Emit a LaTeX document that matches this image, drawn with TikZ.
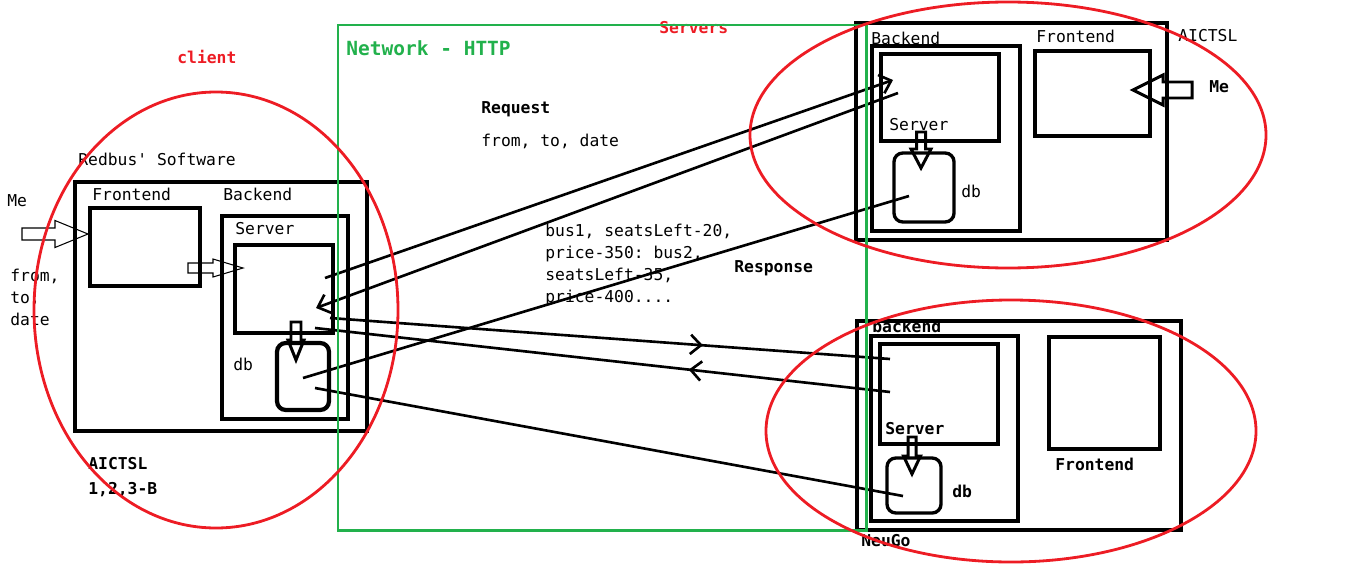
\documentclass[tikz,border=0pt]{standalone}
\usepackage{fontspec}
\setmonofont{DejaVu Sans Mono}
\usepackage{tikz}
\usetikzlibrary{fit}
\usetikzlibrary{arrows.meta}
\usetikzlibrary{decorations.markings}
\definecolor{paintred}{RGB}{237,28,36}
\definecolor{paintgreen}{RGB}{34,177,76}
\newcommand{\lblfont}{\fontsize{9.3}{12.5}\selectfont\ttfamily}
\tikzset{
  pics/hollow/.style n args={4}{code={
    \draw (0,#3) -- ({#1-#2},#3) -- ({#1-#2},#4) -- (#1,0) -- ({#1-#2},-#4) -- ({#1-#2},-#3) -- (0,-#3) -- cycle;
  }}
}

\begin{document}
\begin{tikzpicture}[x=0.02cm, y=-0.02cm,
    box/.style={draw, inner sep=0pt, line width=#1}, box/.default=1.9pt,
    dbbox/.style={box=#1, rounded corners=5pt}, dbbox/.default=1.9pt,
    link/.style={line width=1.5pt, -{Straight Barb[length=6pt,width=11pt]}},
    wire/.style={line width=1.5pt},
    midarrow/.style={line width=1.5pt, postaction={decorate},
      decoration={markings, mark=at position #1 with {\arrow{Straight Barb[length=6pt,width=11pt]}}}},
    lbl/.style={font=\lblfont, anchor=west, inner sep=0pt},
    blbl/.style={font=\lblfont\bfseries, anchor=west, inner sep=0pt},
    oval/.style={draw=paintred, line width=1.6pt}]
  \useasboundingbox (0,0) rectangle (1354,581);

  % client side
  \node[box=2.4pt, fit={(75,182) (367,431)}] (lclient) {};
  \node[box=2.4pt, fit={(90,208) (200,286)}] (lfront) {};
  \node[box=2.4pt, fit={(222,216) (348,419)}] (lback) {};
  \node[box=2.4pt, fit={(235,245) (333,333)}] (lserver) {};
  \node[dbbox=2.4pt, fit={(277,343) (329,410)}] (ldb) {};
  \pic[line width=0.6pt] at (22,234) {hollow={66}{33}{6}{13.5}};
  \pic[line width=0.6pt] at (188,268) {hollow={55}{30}{5}{9}};
  \pic[line width=1.7pt, rotate=-90] at (296,322) {hollow={38}{20}{5}{8}};
  \node[blbl, text=paintred] (clientlbl) at (177,57) {client};
  \node[lbl] (redbus) at (78,159) {Redbus' Software};
  \node[lbl] (lfrontlbl) at (92,194) {Frontend};
  \node[lbl] (lbacklbl) at (223,194) {Backend};
  \node[lbl] (lserverlbl) at (235,229) {Server};
  \node[lbl] (ldblbl) at (233,364) {db};
  \node[lbl] (melbl) at (7,201) {Me};
  \node[lbl, align=left] (medata) at (10,297) {from,\\to,\\date};
  \node[blbl, align=left] (aictslL) at (88,477) {AICTSL\\[1.7pt]1,2,3-B};

  % AICTSL server
  \node[box, fit={(856,23) (1167,240)}] (aouter) {};
  \node[box, fit={(872,46) (1020,231)}] (aback) {};
  \node[box, fit={(881,54) (999,141)}] (aserver) {};
  \node[dbbox, fit={(894,153) (954,222)}] (adb) {};
  \node[box, fit={(1035,51) (1150,136)}] (afront) {};
  \pic[line width=1.7pt, rotate=-90] at (921,132) {hollow={36}{19}{4.5}{10}};
  \pic[line width=1.7pt, rotate=180] at (1192,90) {hollow={59}{30}{8}{15}};
  \node[lbl] (abacklbl) at (871,38) {Backend};
  \node[lbl] (aserverlbl) at (889,125) {Server};
  \node[lbl] (adblbl) at (961,191) {db};
  \node[lbl] (afrontlbl) at (1036,36) {Frontend};
  \node[lbl] (aictslR) at (1178,36) {AICTSL};
  \node[blbl] (me2lbl) at (1209,87) {Me};

  % NeuGo server
  \node[box, fit={(857,321) (1181,530)}] (nouter) {};
  \node[box, fit={(871,336) (1018,521)}] (nback) {};
  \node[box, fit={(880,344) (998,444)}] (nserver) {};
  \node[dbbox, fit={(887,458) (941,513)}] (ndb) {};
  \node[box, fit={(1049,337) (1160,449)}] (nfront) {};
  \pic[line width=1.7pt, rotate=-90] at (912,437) {hollow={37}{18}{4}{8.5}};
  \node[blbl] (nbacklbl) at (872,326) {backend};
  \node[blbl] (nserverlbl) at (885,429) {Server};
  \node[blbl] (ndblbl) at (952,491) {db};
  \node[blbl] (nfrontlbl) at (1055,464) {Frontend};
  \node[blbl] (neugo) at (861,541) {NeuGo};

  % request / response lines
  \coordinate (reqL) at (325,278);
  \coordinate (reqR) at (893,80);
  \coordinate (req2R) at (898,93);
  \coordinate (req2L) at (316,308);
  \coordinate (dbL) at (303,378);
  \coordinate (dbR) at (909,196);
  \coordinate (resL) at (330,318);
  \coordinate (resR) at (890,359);
  \coordinate (res2R) at (890,392);
  \coordinate (res2L) at (315,328);
  \coordinate (db2L) at (315,388);
  \coordinate (db2R) at (903,496);
  \draw[link] (reqL) -- (reqR);
  \draw[link] (req2R) -- (req2L);
  \draw[wire] (dbL) -- (dbR);
  \draw[midarrow=0.666] (resL) -- (resR);
  \draw[midarrow=0.35] (res2R) -- (res2L);
  \draw[wire] (db2L) -- (db2R);

  \node[blbl] (reqlbl) at (481,109) {Request};
  \node[lbl] (reqdata) at (481,141) {from, to, date};
  \node[lbl, align=left] (resdata) at (545,265) {bus1, seatsLeft-20,\\price-350: bus2,\\seatsLeft-35,\\price-400....};
  \node[blbl] (reslbl) at (734,268) {Response};

  % network
  \node[blbl, text=paintred] (serverslbl) at (659,28) {Servers};
  \draw[paintgreen, line width=1.7pt] (338,25) rectangle (866,530);
  \node[blbl, text=paintgreen, font=\fontsize{11.1}{13}\selectfont\ttfamily\bfseries] (netlbl) at (346,48) {Network - HTTP};

  % ovals
  \draw[oval] (216,310) ellipse [x radius=182, y radius=218];
  \draw[oval] (1008,135) ellipse [x radius=258, y radius=133];
  \draw[oval] (1011,431) ellipse [x radius=245, y radius=131];
\end{tikzpicture}
\end{document}
